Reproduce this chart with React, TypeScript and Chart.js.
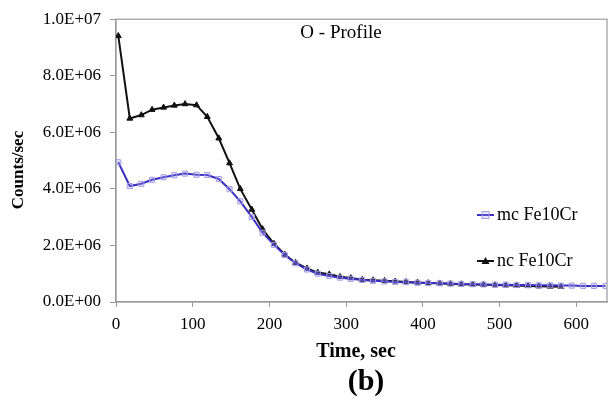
import React, { useEffect, useRef } from "react";
import { Chart, registerables } from "chart.js";

Chart.register(...registerables);

const timeMc = [3, 18, 33, 47, 62, 76, 90, 105, 119, 134, 148, 162, 177, 191, 206, 220, 234, 249, 263, 278, 292, 306, 321, 335, 350, 364, 378, 393, 407, 422, 436, 450, 465, 479, 494, 508, 522, 537, 551, 566, 580, 594, 609, 623, 638];
const mcValues = [4.94e6, 4.10e6, 4.18e6, 4.32e6, 4.41e6, 4.48e6, 4.54e6, 4.50e6, 4.49e6, 4.35e6, 3.99e6, 3.56e6, 3.01e6, 2.45e6, 2.02e6, 1.66e6, 1.37e6, 1.15e6, 1.00e6, 0.92e6, 0.86e6, 0.82e6, 0.78e6, 0.75e6, 0.73e6, 0.71e6, 0.70e6, 0.68e6, 0.67e6, 0.66e6, 0.65e6, 0.64e6, 0.63e6, 0.62e6, 0.61e6, 0.61e6, 0.60e6, 0.60e6, 0.59e6, 0.59e6, 0.58e6, 0.58e6, 0.57e6, 0.57e6, 0.57e6];
const timeNc = [3, 18, 33, 47, 62, 76, 90, 105, 119, 134, 148, 162, 177, 191, 206, 220, 234, 249, 263, 278, 292, 306, 321, 335, 350, 364, 378, 393, 407, 422, 436, 450, 465, 479, 494, 508, 522, 537, 551, 566, 580];
const ncValues = [9.41e6, 6.49e6, 6.61e6, 6.80e6, 6.88e6, 6.95e6, 7.00e6, 6.96e6, 6.55e6, 5.79e6, 4.91e6, 4.00e6, 3.27e6, 2.58e6, 2.06e6, 1.68e6, 1.39e6, 1.19e6, 1.04e6, 0.98e6, 0.89e6, 0.85e6, 0.79e6, 0.77e6, 0.75e6, 0.73e6, 0.71e6, 0.69e6, 0.67e6, 0.66e6, 0.64e6, 0.63e6, 0.62e6, 0.61e6, 0.60e6, 0.59e6, 0.58e6, 0.57e6, 0.56e6, 0.55e6, 0.54e6];
const seriesNames = ["mc Fe10Cr", "nc Fe10Cr"];
const xTicks = [0, 100, 200, 300, 400, 500, 600];
const chartTitle = "O - Profile";
const xTitle = "Time, sec";
const yTitle = "Counts/sec";
const panelLabel = "(b)";

const SERIF = "'Liberation Serif', 'DejaVu Serif', serif";
const MC_LINE = "#3a2fc0";
const MC_MARK = "#a49de6";
const NC_COLOR = "#111111";

function fmtExp(v: number): string {
  if (v === 0) return "0.0E+00";
  const e = Math.floor(Math.log10(v) + 1e-9);
  const m = v / Math.pow(10, e);
  const es = (e < 0 ? "-" : "+") + String(Math.abs(e)).padStart(2, "0");
  return m.toFixed(1) + "E" + es;
}

const textPlugin = {
  id: "extraText",
  beforeDatasetsDraw(chart: any) {
    const { ctx, chartArea } = chart;
    ctx.save();
    ctx.strokeStyle = "#9a9a9a";
    ctx.lineWidth = 1.2;
    ctx.strokeRect(chartArea.left, chartArea.top, chartArea.right - chartArea.left, chartArea.bottom - chartArea.top);
    ctx.restore();
  },
  afterDraw(chart: any) {
    const { ctx } = chart;
    ctx.save();
    ctx.fillStyle = "#000";
    ctx.textBaseline = "middle";
    ctx.textAlign = "center";
    ctx.font = `19px ${SERIF}`;
    ctx.fillText(chartTitle, 341, 33);
    ctx.font = `bold 20px ${SERIF}`;
    ctx.fillText(xTitle, 356, 352);
    ctx.font = `bold 30px ${SERIF}`;
    ctx.fillText(panelLabel, 366, 382);
    ctx.save();
    ctx.translate(19, 170);
    ctx.rotate(-Math.PI / 2);
    ctx.font = `bold 17px ${SERIF}`;
    ctx.fillText(yTitle, 0, 0);
    ctx.restore();

    // legend
    const entries = [
      { name: seriesNames[0], y: 215, ds: chart.data.datasets[0] },
      { name: seriesNames[1], y: 261, ds: chart.data.datasets[1] },
    ];
    entries.forEach((en) => {
      const x0 = 477, x1 = 494;
      ctx.strokeStyle = en.ds.borderColor;
      ctx.lineWidth = 2;
      ctx.beginPath();
      ctx.moveTo(x0, en.y);
      ctx.lineTo(x1, en.y);
      ctx.stroke();
      const cx = (x0 + x1) / 2;
      ctx.lineWidth = 1;
      if (en.ds.pointStyle === "rect") {
        ctx.fillStyle = "rgba(164,157,230,0.25)";
        ctx.strokeStyle = en.ds.pointBorderColor;
        ctx.fillRect(cx - 3.5, en.y - 3.5, 7, 7);
        ctx.strokeRect(cx - 3.5, en.y - 3.5, 7, 7);
      } else {
        ctx.fillStyle = en.ds.pointBackgroundColor;
        ctx.beginPath();
        ctx.moveTo(cx, en.y - 4);
        ctx.lineTo(cx + 4, en.y + 3);
        ctx.lineTo(cx - 4, en.y + 3);
        ctx.closePath();
        ctx.fill();
      }
      ctx.fillStyle = "#000";
      ctx.textAlign = "left";
      ctx.font = `18px ${SERIF}`;
      ctx.fillText(en.name, 497, en.y);
    });
    ctx.restore();
  },
};

export default function App() {
  const ref = useRef<HTMLCanvasElement | null>(null);
  useEffect(() => {
    if (!ref.current) return;
    const chart = new Chart(ref.current, {
      type: "line",
      data: {
        datasets: [
          {
            label: seriesNames[0],
            data: timeMc.map((t, i) => ({ x: t, y: mcValues[i] })),
            borderColor: MC_LINE,
            borderWidth: 2,
            pointStyle: "rect",
            pointRadius: 3.6,
            pointBackgroundColor: "rgba(164,157,230,0.25)",
            pointBorderColor: MC_MARK,
            pointBorderWidth: 1,
            tension: 0,
          },
          {
            label: seriesNames[1],
            data: timeNc.map((t, i) => ({ x: t, y: ncValues[i] })),
            borderColor: NC_COLOR,
            borderWidth: 2,
            pointStyle: "triangle",
            pointRadius: 3.4,
            pointBackgroundColor: NC_COLOR,
            pointBorderColor: NC_COLOR,
            pointBorderWidth: 1,
            tension: 0,
          },
        ],
      },
      options: {
        responsive: false,
        animation: false,
        layout: { padding: { left: 0, top: 15, right: 7, bottom: 0 } },
        plugins: { legend: { display: false }, tooltip: { enabled: false } },
        scales: {
          x: {
            type: "linear",
            min: 0,
            max: 640,
            afterBuildTicks: (s: any) => {
              s.ticks = xTicks.map((v) => ({ value: v }));
            },
            afterFit: (s: any) => {
              s.height = 99;
            },
            grid: { display: true, drawOnChartArea: false, tickLength: 5, color: "#9a9a9a" },
            border: { display: true, color: "#9a9a9a", width: 1.2 },
            ticks: {
              padding: 7,
              color: "#000",
              font: { family: SERIF, size: 17 },
              maxRotation: 0,
              callback: (v: any) => String(v),
            },
          },
          y: {
            type: "linear",
            min: 0,
            max: 1e7,
            ticks: {
              stepSize: 2e6,
              padding: 9,
              color: "#000",
              font: { family: SERIF, size: 17 },
              callback: (v: any) => fmtExp(Number(v)),
            },
            afterFit: (s: any) => {
              s.width = 116;
            },
            grid: { display: true, drawOnChartArea: false, tickLength: 6, color: "#9a9a9a" },
            border: { display: true, color: "#9a9a9a", width: 1.2 },
          },
        },
      },
      plugins: [textPlugin],
    } as any);
    return () => chart.destroy();
  }, []);
  return (
    <div style={{ position: "absolute", left: 0, top: 0, width: 614, height: 401, background: "#fff" }}>
      <canvas ref={ref} width={614} height={401} style={{ width: 614, height: 401 }} />
    </div>
  );
}
